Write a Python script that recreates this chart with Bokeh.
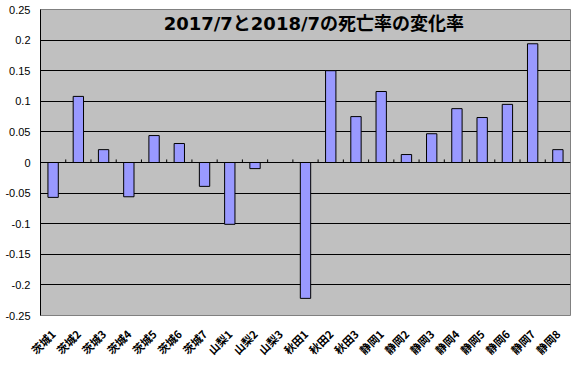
from bokeh.plotting import figure
from bokeh.models import FactorRange, FixedTicker, Span, Label, Range1d, ColumnDataSource
from bokeh.embed import file_html
from bokeh.resources import INLINE
from math import pi

# ---- data ----
categories = ["茨城1", "茨城2", "茨城3", "茨城4", "茨城5", "茨城6", "茨城7",
              "山梨1", "山梨2", "山梨3",
              "秋田1", "秋田2", "秋田3",
              "静岡1", "静岡2", "静岡3", "静岡4", "静岡5", "静岡6", "静岡7", "静岡8"]
values = [-0.057, 0.108, 0.021, -0.056, 0.044, 0.031, -0.039,
          -0.101, -0.010, 0.0,
          -0.222, 0.150, 0.075,
          0.116, 0.013, 0.047, 0.088, 0.0735, 0.095, 0.194, 0.021]
y_ticks = [-0.25, -0.2, -0.15, -0.1, -0.05, 0.0, 0.05, 0.1, 0.15, 0.2, 0.25]
y_tick_labels = ["-0.25", "-0.2", "-0.15", "-0.1", "-0.05", "0",
                 "0.05", "0.1", "0.15", "0.2", "0.25"]
grid_ticks = [-0.2, -0.15, -0.1, -0.05, 0.05, 0.1, 0.15, 0.2]
title_text = "2017/7と2018/7の死亡率の変化率"

src = ColumnDataSource(data=dict(cat=categories, val=values))

p = figure(width=574, height=365, output_backend="svg", toolbar_location=None,
           x_range=FactorRange(*categories, range_padding=0),
           y_range=Range1d(-0.25, 0.25),
           min_border_left=40, min_border_right=4, min_border_top=9, min_border_bottom=50)

p.background_fill_color = "#C0C0C0"
p.border_fill_color = "white"
p.outline_line_color = "#808080"
p.outline_line_width = 1

# grid
p.xgrid.grid_line_color = None
p.ygrid.ticker = FixedTicker(ticks=grid_ticks)
p.ygrid.grid_line_color = "black"
p.ygrid.grid_line_width = 1

# y axis
p.yaxis.ticker = FixedTicker(ticks=y_ticks)
p.yaxis.major_label_overrides = {t: s for t, s in zip(y_ticks, y_tick_labels)}
p.yaxis.axis_line_color = "black"
p.yaxis.major_tick_in = 0
p.yaxis.major_tick_out = 0
p.yaxis.minor_tick_line_color = None
p.yaxis.major_label_standoff = 10
p.yaxis.major_label_text_font = "Liberation Sans"
p.yaxis.major_label_text_font_size = "11px"
p.yaxis.major_label_text_color = "black"

# x axis (labels only)
p.xaxis.axis_line_color = None
p.xaxis.major_tick_line_color = None
p.xaxis.minor_tick_line_color = None
p.xaxis.major_label_orientation = pi / 4
p.xaxis.major_label_standoff = 10
p.xaxis.major_label_text_font = "Noto Sans CJK JP"
p.xaxis.major_label_text_font_size = "11px"
p.xaxis.major_label_text_font_style = "bold"
p.xaxis.major_label_text_color = "black"

# bars
p.vbar(x="cat", top="val", bottom=0, width=0.41, source=src,
       fill_color="#9999FF", line_color="black", line_width=1)

# zero axis line with boundary ticks
p.add_layout(Span(location=0, dimension="width", line_color="black", line_width=1))
bounds = list(range(1, len(categories)))
p.segment(x0=bounds, x1=bounds, y0=[0] * len(bounds), y1=[0.005] * len(bounds),
          line_color="black", line_width=1)

# title inside plot area
p.add_layout(Label(x=10.83, y=0.227, text=title_text, text_align="center",
                   text_baseline="middle", text_font_size="18px", text_font_style="bold",
                   text_font="DejaVu Sans, Noto Sans CJK JP", text_color="black"))

open("out.html", "w").write(file_html(p, INLINE))
